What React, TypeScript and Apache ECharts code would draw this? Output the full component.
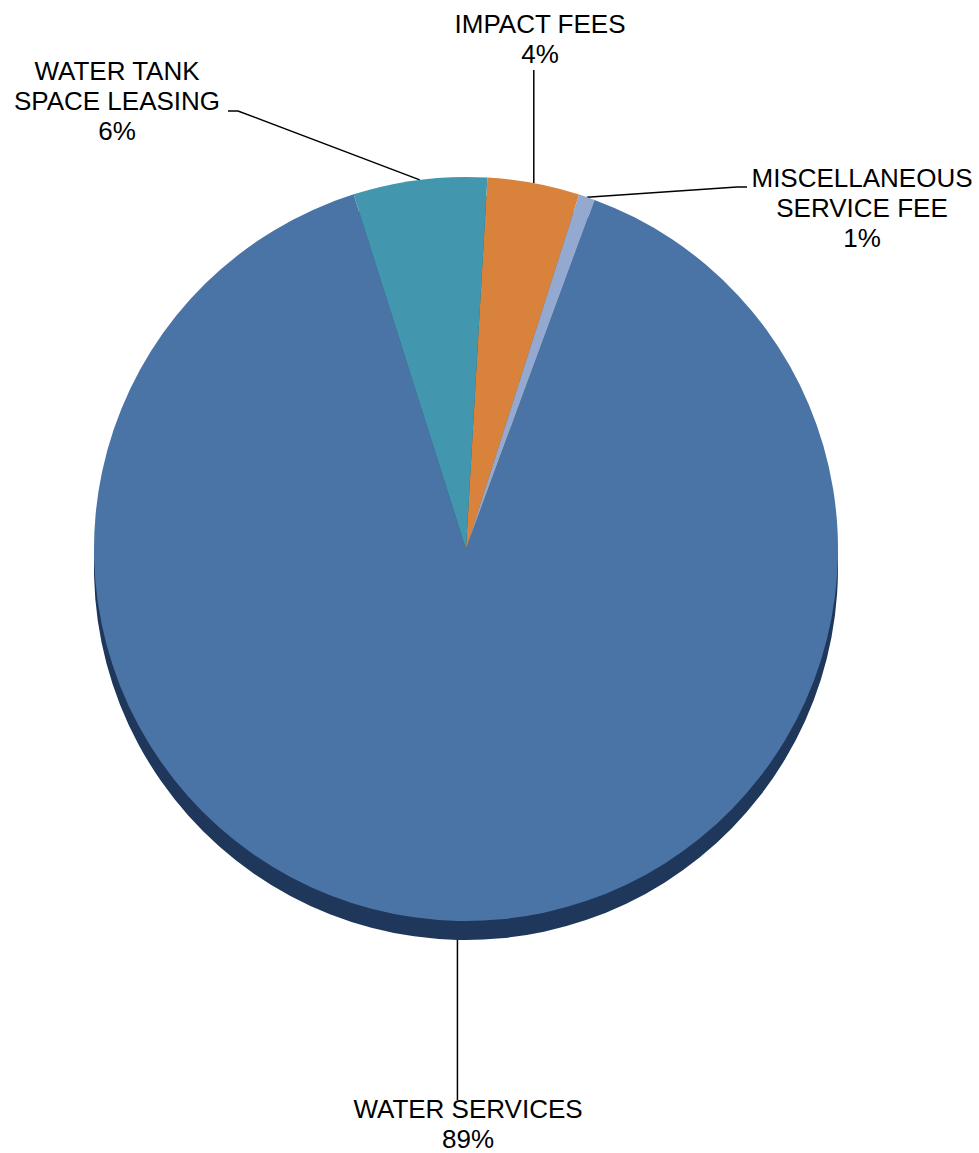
import React, { useEffect, useRef } from "react";
import * as echarts from "echarts";

// ---- data ----
const categories = [
  "IMPACT FEES",
  "MISCELLANEOUS\nSERVICE FEE",
  "WATER SERVICES",
  "WATER TANK\nSPACE LEASING",
];
const values = [4.0, 0.7, 89.5, 5.8];

// ---- styles / layout ----
const sliceColors = ["#d9823c", "#93a9cf", "#4a73a6", "#4297ae"];
const depthColors = ["#8a4f20", "#5a6c8c", "#1f375a", "#245c6b"];
const CX = 466;
const CY = 549;
const R = 372;
const DEPTH = 19;
// label block anchor (center x, top y) per slice
const labelAnchor: number[][] = [
  [540, 9],
  [862, 163],
  [468, 1094],
  [117, 56],
];

export default function App() {
  const ref = useRef<HTMLDivElement>(null);
  useEffect(() => {
    if (!ref.current) return;
    const chart = echarts.init(ref.current, undefined, { renderer: "svg" });
    const data = categories.map((name, i) => ({
      name,
      value: values[i],
      itemStyle: { color: sliceColors[i] },
    }));
    const depthData = categories.map((name, i) => ({
      name,
      value: values[i],
      itemStyle: { color: depthColors[i] },
    }));
    const startAngle = 86.7;
    chart.setOption({
      animation: false,
      backgroundColor: "#ffffff",
      series: [
        {
          type: "pie",
          silent: true,
          center: [CX, CY + DEPTH],
          radius: R,
          startAngle,
          clockwise: true,
          label: { show: false },
          labelLine: { show: false },
          data: depthData,
          z: 1,
        },
        {
          type: "pie",
          center: [CX, CY],
          radius: R,
          startAngle,
          clockwise: true,
          avoidLabelOverlap: false,
          percentPrecision: 0,
          itemStyle: { borderWidth: 0 },
          label: {
            show: true,
            position: "outside",
            formatter: "{b}\n{d}%",
            color: "#000000",
            fontFamily: "'Liberation Sans', Arial, sans-serif",
            fontSize: 26,
            lineHeight: 30,
            align: "center",
          },
          labelLine: {
            show: true,
            length: 20,
            length2: 20,
            smooth: false,
            lineStyle: { color: "#000000", width: 1.5 },
          },
          labelLayout: (params: any) => {
            const i = params.dataIndex;
            const [ax, ay] = labelAnchor[i];
            const p0 = params.labelLinePoints ? params.labelLinePoints[0] : [CX, CY - R];
            let pts: number[][];
            if (i === 0) {
              pts = [[p0[0], p0[1]], [p0[0], 70]];
            } else if (i === 1) {
              pts = [[p0[0], p0[1]], [737, 187], [747, 187]];
            } else if (i === 2) {
              pts = [[p0[0], p0[1] + DEPTH], [p0[0], 1100]];
            } else {
              pts = [[p0[0], p0[1]], [238, 111], [228, 111]];
            }
            return {
              x: ax,
              y: ay,
              align: "center",
              verticalAlign: "top",
              labelLinePoints: pts,
            };
          },
          data,
          z: 2,
        },
      ],
    });
    return () => chart.dispose();
  }, []);
  return (
    <div
      ref={ref}
      style={{ position: "absolute", left: 0, top: 0, width: 979, height: 1153 }}
    />
  );
}
